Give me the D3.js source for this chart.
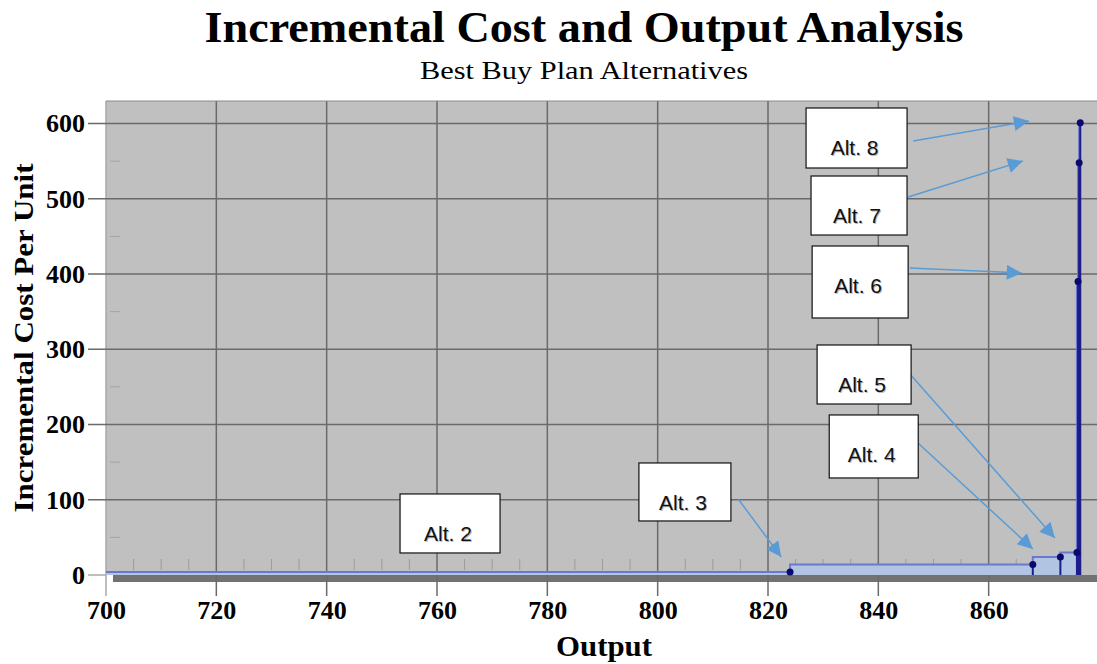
<!DOCTYPE html>
<html>
<head>
<meta charset="utf-8">
<script src="https://cdn.jsdelivr.net/npm/d3@7"></script>
<style>
  body { margin: 0; background: #fff; }
  svg { display: block; }
</style>
</head>
<body>
<svg id="chart" width="1097" height="664"></svg>
<script>
// data
var alternatives = ["Alt. 2", "Alt. 3", "Alt. 4", "Alt. 5", "Alt. 6", "Alt. 7", "Alt. 8"];
var outputs = [824, 868, 873, 876, 876.2, 876.4, 876.6];
var costs = [4, 14, 24, 30, 390, 548, 601];
var xTicks = [700, 720, 740, 760, 780, 800, 820, 840, 860];
var yTicks = [0, 100, 200, 300, 400, 500, 600];

// label boxes, in data units (left/top) + pixel size, and arrow ends
var labelBoxes = [
  { label: "Alt. 2", bx: 753.3, by: 107.7, w: 100, h: 59, arrow: null },
  { label: "Alt. 3", bx: 796.6, by: 148.9, w: 92, h: 58, arrow: [814.6, 101, 822.4, 24] },
  { label: "Alt. 4", bx: 831.1, by: 212.7, w: 89, h: 63, arrow: [846.6, 179.4, 868.0, 34.6] },
  { label: "Alt. 5", bx: 828.9, by: 305.7, w: 94, h: 59, arrow: [845.4, 269.8, 872.0, 49.2] },
  { label: "Alt. 6", bx: 828.0, by: 437.3, w: 96, h: 72, arrow: [845.7, 408, 866.0, 401.4] },
  { label: "Alt. 7", bx: 827.8, by: 530.3, w: 96, h: 59, arrow: [845.4, 502.4, 866.2, 550.2] },
  { label: "Alt. 8", bx: 826.9, by: 620.7, w: 101, h: 60, arrow: [846.3, 576.8, 867.3, 603.4] }
];

var svg = d3.select("#chart");
var serif = "'Liberation Serif', 'Times New Roman', serif";
var sans = "'Liberation Sans', Arial, sans-serif";

var plot = { left: 106, right: 1099, top: 101, bottom: 575 };

var xScale = d3.scaleLinear()
  .domain([700, 880])
  .range([plot.left, plot.right]);

var yScale = d3.scaleLinear()
  .domain([0, 630])
  .range([plot.bottom, plot.top]);

//!Titles
svg.append("text")
  .attr("x", 584).attr("y", 42)
  .attr("text-anchor", "middle")
  .attr("textLength", 759).attr("lengthAdjust", "spacingAndGlyphs")
  .style("font-family", serif).style("font-weight", "bold").style("font-size", "45px")
  .text("Incremental Cost and Output Analysis");

svg.append("text")
  .attr("x", 584).attr("y", 79)
  .attr("text-anchor", "middle")
  .attr("textLength", 328).attr("lengthAdjust", "spacingAndGlyphs")
  .style("font-family", serif).style("font-size", "26px")
  .text("Best Buy Plan Alternatives");

//!Plot background
svg.append("rect")
  .attr("x", plot.left).attr("y", plot.top)
  .attr("width", plot.right - plot.left).attr("height", plot.bottom - plot.top)
  .attr("fill", "#c0c0c0");

// dark floor strip under the zero line
svg.append("rect")
  .attr("x", plot.left + 7).attr("y", plot.bottom)
  .attr("width", plot.right - plot.left - 7).attr("height", 7)
  .attr("fill", "#727272");

svg.append("clipPath").attr("id", "clip")
  .append("rect")
  .attr("x", plot.left).attr("y", plot.top)
  .attr("width", plot.right - plot.left).attr("height", plot.bottom - plot.top + 1);

//!Grid
var minorX = d3.range(705, 880, 5).filter(v => v % 20 !== 0);
svg.append("g").selectAll("line")
  .data(minorX).enter().append("line")
  .attr("x1", d => xScale(d)).attr("x2", d => xScale(d))
  .attr("y1", plot.bottom - 16).attr("y2", plot.bottom - 5)
  .attr("stroke", "#9c9c9c").attr("stroke-width", 1);

var minorY = d3.range(50, 630, 100);
svg.append("g").selectAll("line")
  .data(minorY).enter().append("line")
  .attr("x1", plot.left + 4).attr("x2", plot.left + 14)
  .attr("y1", d => yScale(d)).attr("y2", d => yScale(d))
  .attr("stroke", "#a4a4a4").attr("stroke-width", 1);

svg.append("g").selectAll("line")
  .data(xTicks).enter().append("line")
  .attr("x1", d => xScale(d)).attr("x2", d => xScale(d))
  .attr("y1", plot.top).attr("y2", plot.bottom + 21)
  .attr("stroke", d => d === 700 ? "#a8a8a8" : "#6a6a6a")
  .attr("stroke-width", 1.5);

svg.append("g").selectAll("line")
  .data(yTicks).enter().append("line")
  .attr("x1", plot.left - 18).attr("x2", plot.right)
  .attr("y1", d => yScale(d)).attr("y2", d => yScale(d))
  .attr("stroke", "#6a6a6a").attr("stroke-width", 1.5)
  .filter(d => d === 0).attr("stroke", "#a8a8a8").attr("x2", plot.left);

svg.append("line")
  .attr("x1", plot.left).attr("x2", plot.right)
  .attr("y1", plot.top).attr("y2", plot.top)
  .attr("stroke", "#8a8a8a").attr("stroke-width", 1);

//!Axes labels
var xAxis = d3.axisBottom(xScale).tickValues(xTicks).tickSize(0).tickPadding(26);
svg.append("g")
  .attr("transform", "translate(0," + plot.bottom + ")")
  .call(xAxis)
  .call(g => g.select(".domain").remove())
  .selectAll("text")
  .style("font-family", serif).style("font-weight", "bold").style("font-size", "26px").attr("fill", "#000");

var yAxis = d3.axisLeft(yScale).tickValues(yTicks).tickSize(0).tickPadding(21);
svg.append("g")
  .attr("transform", "translate(" + plot.left + ",0)")
  .call(yAxis)
  .call(g => g.select(".domain").remove())
  .selectAll("text")
  .style("font-family", serif).style("font-weight", "bold").style("font-size", "26px").attr("fill", "#000");

svg.append("text")
  .attr("x", 604).attr("y", 656)
  .attr("text-anchor", "middle")
  .attr("textLength", 96).attr("lengthAdjust", "spacingAndGlyphs")
  .style("font-family", serif).style("font-weight", "bold").style("font-size", "29px")
  .text("Output");

svg.append("text")
  .attr("transform", "translate(33,338) rotate(-90)")
  .attr("text-anchor", "middle")
  .attr("textLength", 349).attr("lengthAdjust", "spacingAndGlyphs")
  .style("font-family", serif).style("font-weight", "bold").style("font-size", "28px")
  .text("Incremental Cost Per Unit");

//!Steps
var steps = outputs.map((o, i) => ({
  label: alternatives[i],
  x0: i === 0 ? 700 : outputs[i - 1],
  x1: o,
  cost: costs[i]
}));

var area = svg.append("g").attr("clip-path", "url(#clip)");

area.selectAll(".bar")
  .data(steps).enter().append("rect")
  .classed("bar", true)
  .attr("x", d => xScale(d.x0))
  .attr("width", d => xScale(d.x1) - xScale(d.x0))
  .attr("y", d => yScale(d.cost))
  .attr("height", d => yScale(0) - yScale(d.cost))
  .attr("fill", "#b1c5e2");

var stepLine = d3.line()
  .x(d => xScale(d[0]))
  .y(d => yScale(d[1]));

var outline = [];
steps.forEach(d => { outline.push([d.x0, d.cost]); outline.push([d.x1, d.cost]); });

area.append("path")
  .datum(outline)
  .attr("d", stepLine)
  .attr("fill", "none")
  .attr("stroke", "#6b78cc")
  .attr("stroke-width", 2);

area.selectAll(".drop")
  .data(steps).enter().append("line")
  .classed("drop", true)
  .attr("x1", d => xScale(d.x1)).attr("x2", d => xScale(d.x1))
  .attr("y1", d => yScale(d.cost)).attr("y2", yScale(0))
  .attr("stroke", "#1c1c8a")
  .attr("stroke-width", 2);

svg.selectAll(".dot")
  .data(steps).enter().append("circle")
  .classed("dot", true)
  .attr("cx", d => xScale(d.x1))
  .attr("cy", d => yScale(d.cost))
  .attr("r", 3.5)
  .attr("fill", "#0a0a6e");

//!Annotations
svg.append("defs").append("marker")
  .attr("id", "head")
  .attr("viewBox", "0 0 10 10")
  .attr("refX", 10).attr("refY", 5)
  .attr("markerUnits", "userSpaceOnUse")
  .attr("markerWidth", 20).attr("markerHeight", 15)
  .attr("orient", "auto")
  .append("path")
  .attr("d", "M0,0 L10,5 L0,10 Z")
  .attr("fill", "#5b9bd5");

var notes = svg.append("g");

notes.selectAll(".arrow")
  .data(labelBoxes.filter(d => d.arrow)).enter().append("line")
  .classed("arrow", true)
  .attr("x1", d => xScale(d.arrow[0])).attr("y1", d => yScale(d.arrow[1]))
  .attr("x2", d => xScale(d.arrow[2])).attr("y2", d => yScale(d.arrow[3]))
  .attr("stroke", "#5b9bd5")
  .attr("stroke-width", 1.5)
  .attr("marker-end", "url(#head)");

var box = notes.selectAll(".note")
  .data(labelBoxes).enter().append("g")
  .classed("note", true)
  .attr("transform", d => "translate(" + xScale(d.bx) + "," + yScale(d.by) + ")");

box.append("rect")
  .attr("width", d => d.w).attr("height", d => d.h)
  .attr("fill", "#fff")
  .attr("stroke", "#111")
  .attr("stroke-width", 1.2);

// faint shadow under the label text
box.append("text")
  .attr("x", d => d.w / 2 - 1).attr("y", 48)
  .attr("text-anchor", "middle")
  .style("font-family", sans).style("font-size", "21px")
  .attr("fill", "#bbb")
  .text(d => d.label);

box.append("text")
  .attr("x", d => d.w / 2 - 2).attr("y", 47)
  .attr("text-anchor", "middle")
  .style("font-family", sans).style("font-size", "21px")
  .attr("fill", "#111")
  .text(d => d.label);
</script>
</body>
</html>
